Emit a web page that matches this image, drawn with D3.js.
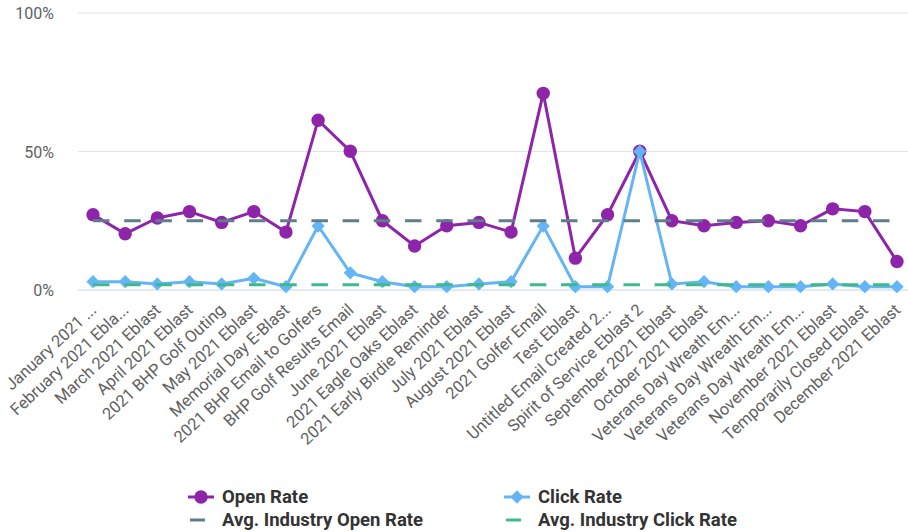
<!DOCTYPE html>
<html>
<head>
<meta charset="utf-8">
<script src="https://cdn.jsdelivr.net/npm/d3@7"></script>
<style>
  body { margin: 0; background: #fff; }
  svg { display: block; }
  svg text { font-family: Roboto, "Noto Sans", sans-serif; }
</style>
</head>
<body>
<div id="chart"></div>
<script>
// email campaigns, 2021
const categories = [
  "January 2021 ...", "February 2021 Ebla...", "March 2021 Eblast", "April 2021 Eblast",
  "2021 BHP Golf Outing", "May 2021 Eblast", "Memorial Day E-Blast", "2021 BHP Email to Golfers",
  "BHP Golf Results Email", "June 2021 Eblast", "2021 Eagle Oaks Eblast", "2021 Early Birdie Reminder",
  "July 2021 Eblast", "August 2021 Eblast", "2021 Golfer Email", "Test Eblast",
  "Untitled Email Created 2...", "Spirit of Service Eblast 2", "September 2021 Eblast", "October 2021 Eblast",
  "Veterans Day Wreath Em...", "Veterans Day Wreath Em...", "Veterans Day Wreath Em...", "November 2021 Eblast",
  "Temporarily Closed Eblast", "December 2021 Eblast"
];
const openRate = [27.2, 20.3, 26.0, 28.3, 24.4, 28.3, 20.9, 61.3, 50.1, 25.0, 15.9, 23.2,
  24.4, 20.9, 71.0, 11.5, 27.2, 50.1, 25.0, 23.2, 24.4, 25.0, 23.2, 29.3, 28.3, 10.3];
const clickRate = [3.0, 3.0, 2.2, 3.0, 2.2, 4.2, 1.2, 23.1, 6.2, 3.0, 1.2, 1.2,
  2.2, 3.0, 23.1, 1.2, 1.2, 50.0, 2.2, 3.0, 1.2, 1.2, 1.2, 2.2, 1.2, 1.2];
const avgOpenRate = 25.0;
const avgClickRate = 1.9;
const yTicks = [0, 50, 100];

const W = 908, H = 532;
const colors = { open: "#8e24aa", click: "#64b5f6", avgOpen: "#607d8b", avgClick: "#3dba8c" };

const svg = d3.select("#chart").append("svg").attr("width", W).attr("height", H);

const keys = categories.map((c, i) => i);
const x = d3.scalePoint().domain(keys).range([93, 897]);
const y = d3.scaleLinear().domain([0, 100]).range([290, 13]);

// grid
svg.append("g")
  .selectAll("line")
  .data(yTicks)
  .join("line")
  .attr("x1", 78).attr("x2", W)
  .attr("y1", d => y(d)).attr("y2", d => y(d))
  .attr("stroke", d => d === 0 ? "#c5d2ee" : "#e3e3e3")
  .attr("stroke-width", 1);

// y axis labels
svg.append("g")
  .attr("transform", "translate(54,0)")
  .call(d3.axisLeft(y).tickValues(yTicks).tickSize(0).tickPadding(0).tickFormat(d => d + "%"))
  .call(g => g.attr("font-family", null))
  .call(g => g.select(".domain").remove())
  .selectAll("text")
  .attr("dy", "0.35em")
  .style("font-size", "16px")
  .style("fill", "#616161");

// x axis labels
svg.append("g")
  .attr("transform", "translate(0,307)")
  .call(d3.axisBottom(x).tickSize(0).tickPadding(0).tickFormat(i => categories[i]))
  .call(g => g.attr("font-family", null))
  .call(g => g.select(".domain").remove())
  .selectAll("text")
  .attr("text-anchor", "end")
  .attr("dy", "0.35em")
  .attr("transform", "rotate(-43)")
  .style("font-size", "16.5px")
  .style("fill", "#616161");

const line = d3.line().x((d, i) => x(i)).y(d => y(d));

// open rate
svg.append("path")
  .datum(openRate)
  .attr("d", line)
  .attr("fill", "none")
  .attr("stroke", colors.open)
  .attr("stroke-width", 3);
svg.append("g")
  .selectAll("circle")
  .data(openRate)
  .join("circle")
  .attr("cx", (d, i) => x(i))
  .attr("cy", d => y(d))
  .attr("r", 6.7)
  .attr("fill", colors.open);

// click rate
svg.append("path")
  .datum(clickRate)
  .attr("d", line)
  .attr("fill", "none")
  .attr("stroke", colors.click)
  .attr("stroke-width", 3);
svg.append("g")
  .selectAll("path")
  .data(clickRate)
  .join("path")
  .attr("transform", (d, i) => `translate(${x(i)},${y(d)}) rotate(45)`)
  .attr("d", d3.symbol().type(d3.symbolSquare).size(88))
  .attr("fill", colors.click);

// industry averages (dashed, on top)
const avgs = [
  { v: avgOpenRate, c: colors.avgOpen },
  { v: avgClickRate, c: colors.avgClick }
];
svg.append("g")
  .selectAll("line")
  .data(avgs)
  .join("line")
  .attr("x1", x(0)).attr("x2", x(keys.length - 1))
  .attr("y1", d => y(d.v)).attr("y2", d => y(d.v))
  .attr("stroke", d => d.c)
  .attr("stroke-width", 3)
  .attr("stroke-dasharray", "16.5,14.7");

// legend
const legend = [
  { name: "Open Rate", c: colors.open, mark: "circle", lx: 188, ly: 497 },
  { name: "Click Rate", c: colors.click, mark: "diamond", lx: 504, ly: 497 },
  { name: "Avg. Industry Open Rate", c: colors.avgOpen, mark: "dash", lx: 188, ly: 520 },
  { name: "Avg. Industry Click Rate", c: colors.avgClick, mark: "dash", lx: 504, ly: 520 }
];
const lg = svg.append("g").selectAll("g").data(legend).join("g")
  .attr("transform", d => `translate(${d.lx},${d.ly})`);
lg.filter(d => d.mark !== "dash").append("line")
  .attr("x1", 0).attr("x2", 26)
  .attr("stroke", d => d.c).attr("stroke-width", 3);
lg.filter(d => d.mark === "dash").append("line")
  .attr("x1", 2).attr("x2", 17)
  .attr("stroke", d => d.c).attr("stroke-width", 3);
lg.filter(d => d.mark === "circle").append("circle")
  .attr("cx", 13).attr("r", 6.7).attr("fill", d => d.c);
lg.filter(d => d.mark === "diamond").append("path")
  .attr("transform", "translate(13,0) rotate(45)")
  .attr("d", d3.symbol().type(d3.symbolSquare).size(88))
  .attr("fill", d => d.c);
lg.append("text")
  .attr("x", 34)
  .attr("dy", "0.35em")
  .style("font-size", "18.5px")
  .style("font-weight", "700")
  .style("fill", "#333")
  .text(d => d.name);
</script>
</body>
</html>
